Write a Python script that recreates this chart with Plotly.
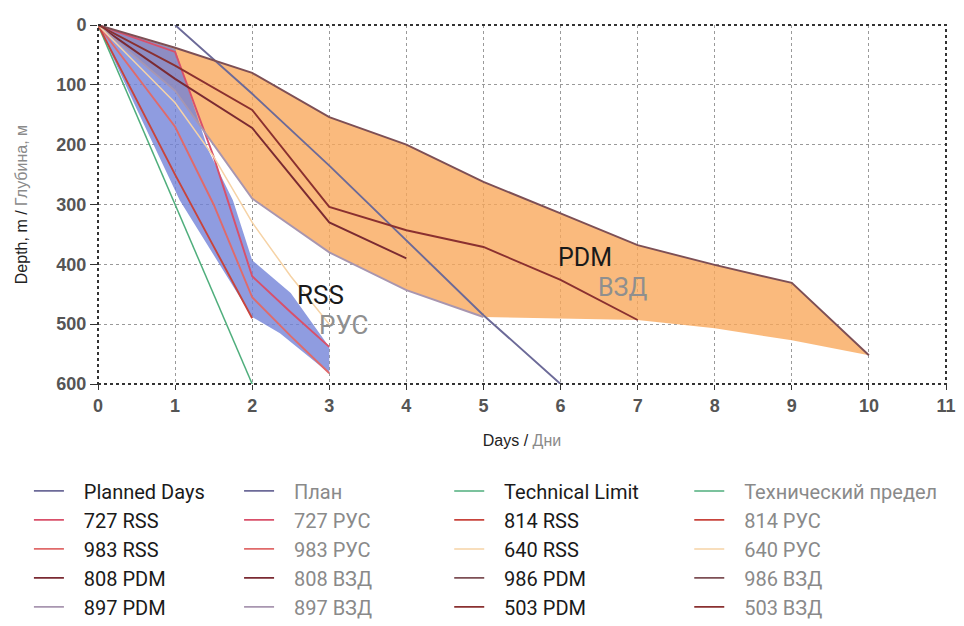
import plotly.graph_objects as go

# ---------------- data ----------------
days_planned = [1, 2, 3, 4, 5, 6]
depth_planned = [0, 115, 235, 360, 485, 600]

days_tech = [0, 1, 2]
depth_tech = [0, 300, 600]

days_727 = [0, 1, 1.5, 2, 2.5, 3]
depth_727 = [0, 45, 220, 420, 480, 538]
days_983 = [0, 1, 1.5, 2, 2.5, 3]
depth_983 = [0, 170, 300, 455, 520, 582]
days_814 = [0, 1, 1.5, 2]
depth_814 = [0, 250, 370, 490]
days_640 = [0, 1, 1.5, 2, 2.5, 3]
depth_640 = [0, 130, 220, 330, 420, 500]

days_808 = [0, 1, 2, 3, 4]
depth_808 = [0, 90, 172, 330, 390]
days_503 = [0, 1, 2, 3, 4, 5, 6, 7]
depth_503 = [0, 68, 142, 304, 343, 371, 426, 493]
days_986 = [0, 1, 2, 3, 4, 5, 6, 7, 8, 9, 10]
depth_986 = [0, 38, 80, 154, 200, 262, 315, 368, 401, 431, 552]
days_897 = [0, 1, 1.5, 2, 3, 4, 5]
depth_897 = [0, 110, 200, 290, 380, 443, 488]

# envelope bands
pdm_band_days = [0, 1, 2, 3, 4, 5, 6, 7, 8, 9, 10, 9, 8, 7, 5, 4, 3, 2, 1.5, 1, 0]
pdm_band_depth = [0, 38, 80, 154, 200, 262, 315, 368, 401, 431, 552, 527, 507, 493, 488, 443, 380, 290, 200, 110, 0]
rss_band_days = [0, 1, 1.43, 1.75, 2, 2.5, 3, 3, 2.36, 2, 1.06, 0.5, 0]
rss_band_depth = [0, 40, 209, 293, 393, 448, 538, 582, 515, 488, 293, 140, 0]

x_ticks = list(range(0, 12))
y_ticks = [0, 100, 200, 300, 400, 500, 600]

GRAY = "#8a8a8a"
def ru(t):
    return '<span style="color:%s">%s</span>' % (GRAY, t)

fig = go.Figure()

# bands
fig.add_trace(go.Scatter(x=pdm_band_days, y=pdm_band_depth, fill="toself",
                         fillcolor="rgba(248,166,88,0.78)", line=dict(width=0),
                         mode="lines", showlegend=False, hoverinfo="skip"))
fig.add_trace(go.Scatter(x=rss_band_days, y=rss_band_depth, fill="toself",
                         fillcolor="rgba(112,128,215,0.78)", line=dict(width=0),
                         mode="lines", showlegend=False, hoverinfo="skip"))

C_PLAN = "#6c6a98"
C_TECH = "#4fae7c"
C_727 = "#d9506a"
C_983 = "#e06a6a"
C_814 = "#c8443c"
C_640 = "#f6d3a6"
C_808 = "#7a2a32"
C_897 = "#a896b0"
C_986 = "#7d4f55"
C_503 = "#8a3030"

series = {
    "plan": (days_planned, depth_planned, C_PLAN, 1.9),
    "tech": (days_tech, depth_tech, C_TECH, 1.5),
    "727": (days_727, depth_727, C_727, 1.9),
    "814": (days_814, depth_814, C_814, 1.9),
    "983": (days_983, depth_983, C_983, 1.9),
    "640": (days_640, depth_640, C_640, 1.5),
    "808": (days_808, depth_808, C_808, 1.9),
    "986": (days_986, depth_986, C_986, 1.9),
    "897": (days_897, depth_897, C_897, 1.9),
    "503": (days_503, depth_503, C_503, 1.9),
}

NB = "\u00a0\u00a0\u00a0"
legend_cols = [
    [("plan", "Planned Days"), ("727", "727 RSS"), ("983", "983 RSS"), ("808", "808 PDM"), ("897", "897 PDM")],
    [("plan", ru("План")), ("727", ru("727 РУС")), ("983", ru("983 РУС")), ("808", ru("808 ВЗД")), ("897", ru("897 ВЗД"))],
    [("tech", "Technical Limit"), ("814", "814 RSS"), ("640", "640 RSS"), ("986", "986 PDM"), ("503", "503 PDM")],
    [("tech", ru("Технический предел")), ("814", ru("814 РУС")), ("640", ru("640 РУС")), ("986", ru("986 ВЗД")), ("503", ru("503 ВЗД"))],
]
legend_ids = ["legend", "legend2", "legend3", "legend4"]
legend_x = [0.030, 0.248, 0.466, 0.715]

drawn = set()
for ci, col_items in enumerate(legend_cols):
    for key, name in col_items:
        xs, ys, col, w = series[key]
        if key not in drawn:
            drawn.add(key)
            fig.add_trace(go.Scatter(x=xs, y=ys, mode="lines", name=NB + name,
                                     line=dict(color=col, width=w), legend=legend_ids[ci]))
        else:
            fig.add_trace(go.Scatter(x=[None], y=[None], mode="lines", name=NB + name,
                                     line=dict(color=col, width=w), legend=legend_ids[ci]))

LBL_FONT = "Roboto, Liberation Sans, Arial"
# band labels
fig.add_annotation(x=2.88, y=452, text="RSS", showarrow=False,
                   font=dict(size=26, color="#1a1a1a", family=LBL_FONT))
fig.add_annotation(x=3.18, y=502, text="РУС", showarrow=False,
                   font=dict(size=26, color="#8f8f8f", family=LBL_FONT))
fig.add_annotation(x=6.32, y=388, text="PDM", showarrow=False,
                   font=dict(size=25, color="#1a1a1a", family=LBL_FONT))
fig.add_annotation(x=6.8, y=438, text="ВЗД", showarrow=False,
                   font=dict(size=25, color="#8f8f8f", family=LBL_FONT))

# y axis title (as rotated annotation in the left margin)
fig.add_annotation(xref="paper", yref="paper", x=-0.09, y=0.5, xanchor="center", yanchor="middle",
                   text="Depth, m / " + ru("Глубина, м"), textangle=-90, showarrow=False,
                   font=dict(size=16, color="#222", family="Liberation Sans, Arial"))

# dotted frame
fig.add_shape(type="rect", xref="paper", yref="paper", x0=0, y0=0, x1=1, y1=1,
              line=dict(color="#333333", width=2, dash="dot"), layer="above")

leg_common = dict(orientation="v", xref="container", yref="container",
                  y=0.247, xanchor="left", yanchor="top",
                  font=dict(size=20, color="#1a1a1a", family="Roboto, Liberation Sans, Arial, sans-serif"),
                  bgcolor="rgba(0,0,0,0)", itemwidth=30, tracegroupgap=0, traceorder="normal")

fig.update_layout(
    width=964, height=626,
    margin=dict(l=98, r=18, t=25, b=242, autoexpand=False),
    paper_bgcolor="white", plot_bgcolor="white",
    font=dict(family="Liberation Sans, Arial, sans-serif"),
    legend=dict(x=legend_x[0], **leg_common),
    legend2=dict(x=legend_x[1], **leg_common),
    legend3=dict(x=legend_x[2], **leg_common),
    legend4=dict(x=legend_x[3], **leg_common),
)
fig.update_xaxes(range=[0, 11], tickvals=x_ticks, showgrid=True, gridcolor="#9a9a9a",
                 griddash="dot", gridwidth=1.2, zeroline=False, ticks="outside", ticklen=5,
                 tickcolor="#333", tickfont=dict(size=18, color="#555", family="Liberation Sans, Arial", weight="bold"),
                 title=dict(text="Days / " + ru("Дни"), font=dict(size=16, color="#222"), standoff=20))
fig.update_yaxes(range=[600, 0], tickvals=y_ticks, showgrid=True, gridcolor="#9a9a9a",
                 griddash="dot", gridwidth=1.2, zeroline=False, ticks="outside", ticklen=7,
                 tickcolor="#333", tickfont=dict(size=18, color="#555", family="Liberation Sans, Arial", weight="bold"))

fig.write_html("out.html")
